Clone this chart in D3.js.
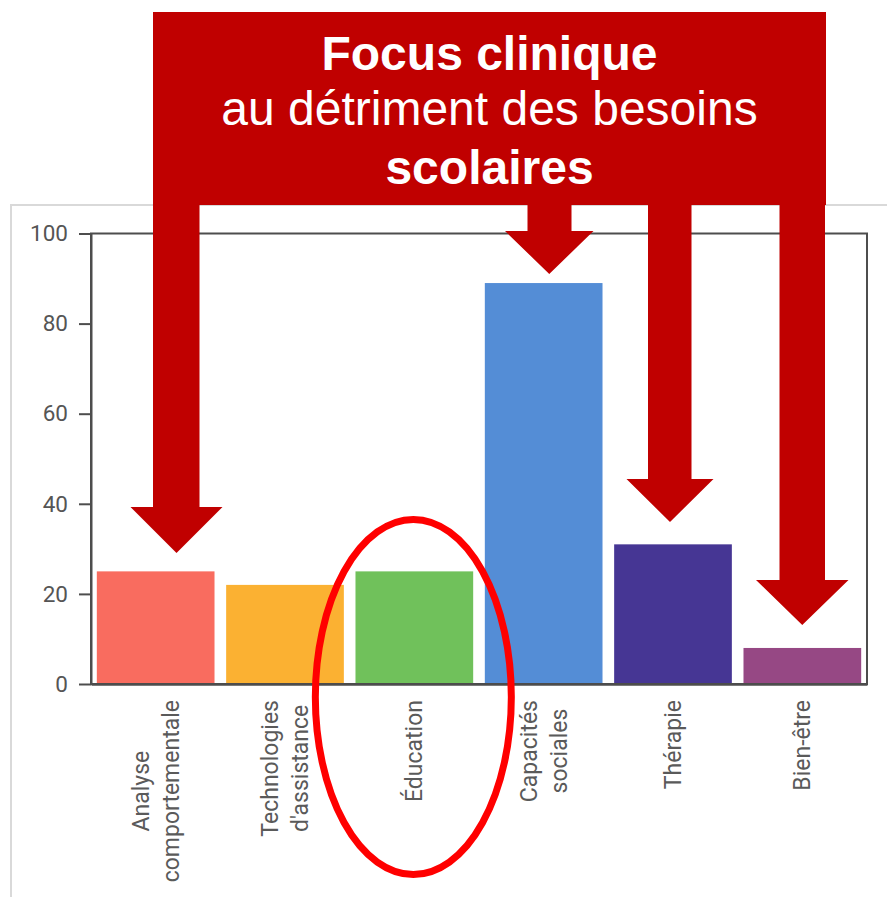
<!DOCTYPE html>
<html>
<head>
<meta charset="utf-8">
<script src="https://cdn.jsdelivr.net/npm/d3@7"></script>
<style>
  html, body { margin: 0; padding: 0; background: #fff; }
  svg { display: block; }
</style>
</head>
<body>
<svg id="chart" width="887" height="897"></svg>
<script>
// ---- data ----
const categories = ["Analyse\ncomportementale", "Technologies\nd'assistance", "Éducation", "Capacités\nsociales", "Thérapie", "Bien-être"];
const values = [25, 22, 25, 89, 31, 8];
const barColors = ["#f96c5f", "#fbb132", "#70c15b", "#548dd6", "#463694", "#964884"];
const yTicks = [0, 20, 40, 60, 80, 100];
const bannerLines = [
  { text: "Focus clinique", weight: "bold" },
  { text: "au détriment des besoins", weight: "normal" },
  { text: "scolaires", weight: "bold" }
];

// ---- layout ----
const svg = d3.select("#chart");
const plot = { left: 91, right: 867, top: 233.5, bottom: 684 };

// outer light frame
svg.append("rect")
  .attr("x", 11).attr("y", 205).attr("width", 900).attr("height", 720)
  .attr("fill", "#fff").attr("stroke", "#d9d9d9").attr("stroke-width", 2);

const x = d3.scaleBand()
  .domain(categories)
  .range([plot.left, plot.right])
  .paddingInner(0.09)
  .paddingOuter(0.045);

const y = d3.scaleLinear().domain([0, 100]).range([plot.bottom, plot.top]);

// bars
svg.append("g").selectAll("rect")
  .data(categories)
  .join("rect")
  .attr("x", d => x(d))
  .attr("width", x.bandwidth())
  .attr("y", (d, i) => y(values[i]))
  .attr("height", (d, i) => y(0) - y(values[i]))
  .attr("fill", (d, i) => barColors[i]);

// plot frame (top/right)
svg.append("rect")
  .attr("x", plot.left).attr("y", plot.top)
  .attr("width", plot.right - plot.left).attr("height", plot.bottom - plot.top)
  .attr("fill", "none").attr("stroke", "#4d4d4d").attr("stroke-width", 2);

// y axis
const yAxis = svg.append("g")
  .attr("transform", `translate(${plot.left},0)`)
  .call(d3.axisLeft(y).tickValues(yTicks).tickSize(12).tickSizeOuter(0).tickPadding(11));
yAxis.select(".domain").attr("stroke", "#4d4d4d").attr("stroke-width", 2);
yAxis.selectAll(".tick line").attr("stroke", "#4d4d4d").attr("stroke-width", 2);
yAxis.selectAll(".tick text")
  .attr("fill", "#555").attr("font-family", "Roboto, sans-serif").attr("font-size", 22.5);

// x axis
const xAxis = svg.append("g")
  .attr("transform", `translate(0,${plot.bottom})`)
  .call(d3.axisBottom(x).tickSize(0).tickSizeOuter(0).tickFormat(""));
xAxis.select(".domain").attr("stroke", "#4d4d4d").attr("stroke-width", 2.5);

// rotated multi-line labels
const labelGap = 16;
const lineH = 30;
categories.forEach(cat => {
  const lines = cat.split("\n");
  const cx = x(cat) + x.bandwidth() / 2;
  const g = svg.append("g")
    .attr("transform", `translate(${cx},${plot.bottom}) rotate(-90)`);
  const t = g.append("text")
    .attr("font-family", "Roboto, sans-serif")
    .attr("font-size", 23)
    .attr("fill", "#5a5a5a")
    .attr("text-anchor", "middle");
  const n = lines.length;
  const spans = lines.map((ln, j) => t.append("tspan")
    .attr("y", (j - (n - 1) / 2) * lineH + 8)
    .text(ln));
  const maxW = d3.max(spans, s => s.node().getComputedTextLength());
  spans.forEach(s => s.attr("x", -(labelGap + maxW / 2)));
});

// ---- annotation: banner with arrows ----
const red = "#c00000";
const banner = { x0: 153, x1: 826, y0: 12, y1: 205 };
svg.append("rect")
  .attr("x", banner.x0).attr("y", banner.y0)
  .attr("width", banner.x1 - banner.x0).attr("height", banner.y1 - banner.y0)
  .attr("fill", red);

const arrows = [
  { s0: 153, s1: 199.5, h0: 130.5, h1: 222.5, hy: 507, tipY: 553 },
  { s0: 527.5, s1: 571.5, h0: 505, h1: 593.5, hy: 231, tipY: 274 },
  { s0: 648, s1: 691.5, h0: 626.5, h1: 713.5, hy: 479, tipY: 522 },
  { s0: 779.5, s1: 825, h0: 756, h1: 848.5, hy: 580, tipY: 625 }
];
svg.append("g").selectAll("path")
  .data(arrows)
  .join("path")
  .attr("fill", red)
  .attr("d", a => {
    const tipX = (a.h0 + a.h1) / 2;
    return `M${a.s0},${banner.y1 - 1} L${a.s1},${banner.y1 - 1} L${a.s1},${a.hy} L${a.h1},${a.hy} ` +
           `L${tipX},${a.tipY} L${a.h0},${a.hy} L${a.s0},${a.hy} Z`;
  });

const bannerCx = (banner.x0 + banner.x1) / 2;
const baselines = [70, 125, 184];
svg.append("g").selectAll("text")
  .data(bannerLines)
  .join("text")
  .attr("x", bannerCx)
  .attr("y", (d, i) => baselines[i])
  .attr("text-anchor", "middle")
  .attr("font-family", "'Liberation Sans', Arial, sans-serif")
  .attr("font-size", 48)
  .attr("font-weight", d => d.weight)
  .attr("fill", "#fff")
  .text(d => d.text);

// ---- annotation: ellipse around Éducation ----
const eduCx = x("Éducation") + x.bandwidth() / 2;
svg.append("ellipse")
  .attr("cx", eduCx - 1).attr("cy", 697)
  .attr("rx", 98).attr("ry", 177.5)
  .attr("fill", "none").attr("stroke", "#ff0000").attr("stroke-width", 7);
</script>
</body>
</html>
